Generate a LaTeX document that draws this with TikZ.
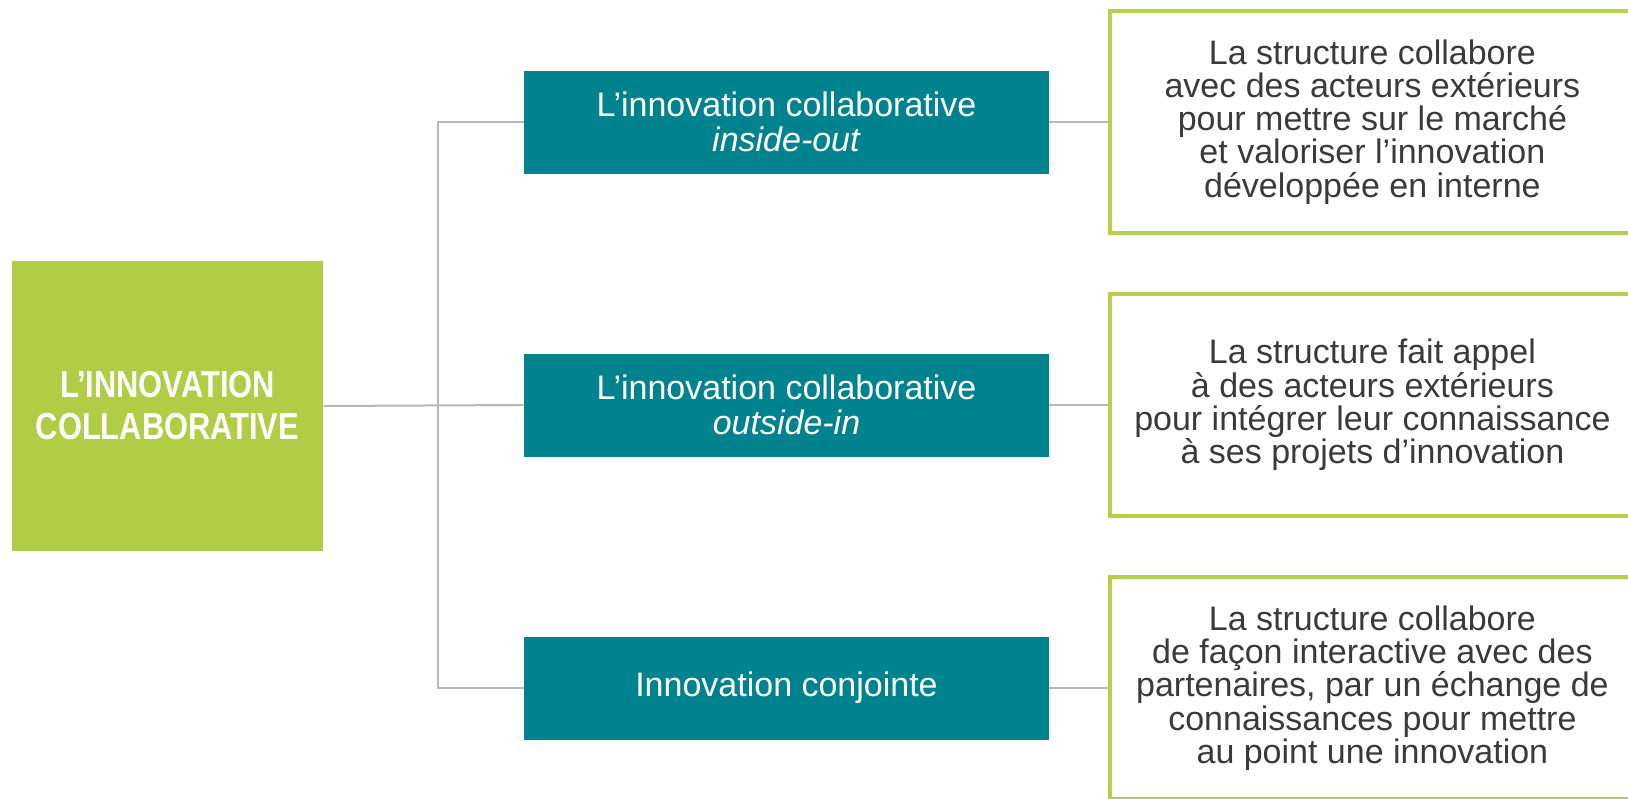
\documentclass[tikz,border=0pt]{standalone}
\usepackage{fontspec}
\setmainfont{Liberation Sans}
\newfontfamily\narrowfont[FakeStretch=0.82]{Liberation Sans}
\usetikzlibrary{positioning}

\definecolor{leafgreen}{HTML}{B1CC45}
\definecolor{framegreen}{HTML}{B5D14C}
\definecolor{tealfill}{HTML}{00838F}
\definecolor{linegray}{HTML}{B8B8B8}
\definecolor{textgray}{HTML}{3A3A3A}

\begin{document}
\begin{tikzpicture}[x=0.5pt, y=-0.5pt,
    mainbox/.style={fill=leafgreen, text=white, inner sep=0pt, align=center,
        minimum width=155.5pt, minimum height=145pt,
        font=\narrowfont\bfseries\fontsize{18.8}{21}\selectfont},
    typebox/.style={fill=tealfill, text=white, inner sep=0pt, align=center,
        minimum width=262.5pt, minimum height=51.5pt,
        font=\fontsize{17}{17.5}\selectfont},
    descbox/.style={draw=framegreen, line width=2pt, text=textgray, inner sep=0pt,
        align=center, minimum width=262pt, minimum height=111pt,
        font=\fontsize{17}{16.6}\selectfont},
    link/.style={draw=linegray, line width=1pt}]

        % Fix page size
        \useasboundingbox (0,0) rectangle (1628,798);

        % Main box
        \node[mainbox] (root) at (167.5,406) {L’INNOVATION\\COLLABORATIVE};

        % Kinds of collaborative innovation
        \node[typebox] (insideout) at (786.5,122) {L’innovation collaborative\\\textit{inside-out}};
        \node[typebox] (outsidein) at (786.5,405) {L’innovation collaborative\\\textit{outside-in}};
        \node[typebox] (joint) at (786.5,688) {Innovation conjointe};

        % Descriptions
        \node[descbox, right=29.5pt of insideout] (descA) {La structure collabore\\avec des acteurs extérieurs\\pour mettre sur le marché\\et valoriser l’innovation\\développée en interne};
        \node[descbox, right=29.5pt of outsidein] (descB) {La structure fait appel\\à des acteurs extérieurs\\pour intégrer leur connaissance\\à ses projets d’innovation};
        \node[descbox, right=29.5pt of joint] (descC) {La structure collabore\\de façon interactive avec des\\partenaires, par un échange de\\connaissances pour mettre\\au point une innovation};

        % Tree lines
        \coordinate (fork) at (438,405);
        \draw[link] (root.east) -- (outsidein.west);
        \draw[link] (insideout.west) -| (fork) |- (joint.west);
        \draw[link] (insideout.east) -- (descA.west);
        \draw[link] (outsidein.east) -- (descB.west);
        \draw[link] (joint.east) -- (descC.west);

\end{tikzpicture}
\end{document}
